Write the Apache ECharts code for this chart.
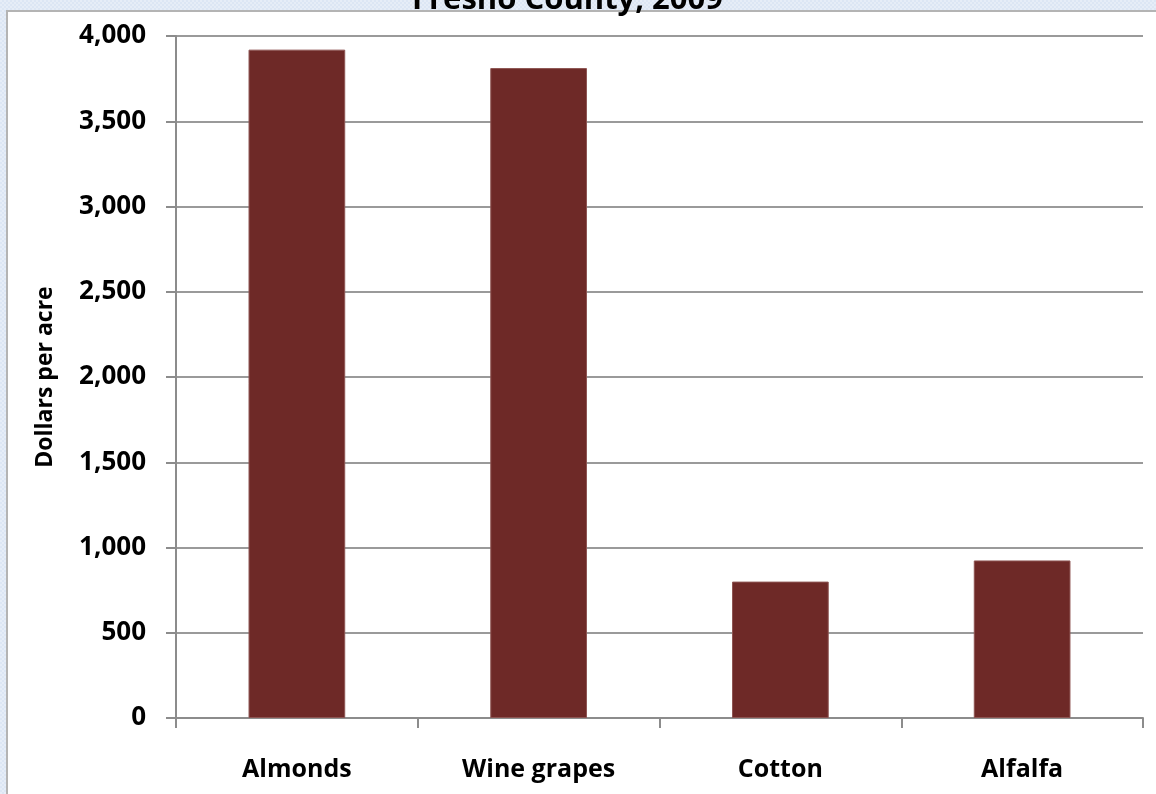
<!DOCTYPE html>
<html>
<head>
<meta charset="utf-8">
<script src="https://cdn.jsdelivr.net/npm/echarts@6/dist/echarts.min.js"></script>
<style>
  html, body { margin: 0; padding: 0; width: 1156px; height: 794px; overflow: hidden; }
  #bg {
    position: absolute; left: 0; top: 0; width: 1156px; height: 794px;
    background-color: #E6EDF7;
    background-image:
      linear-gradient(45deg, #DCE6F4 25%, transparent 25%, transparent 75%, #DCE6F4 75%),
      linear-gradient(45deg, #DCE6F4 25%, transparent 25%, transparent 75%, #DCE6F4 75%);
    background-size: 4px 4px;
    background-position: 0 0, 2px 2px;
  }
  #panel {
    position: absolute; left: 6px; top: 10px; width: 1160px; height: 800px;
    background: #FFFFFF; border-left: 2px solid #B4B4B4; border-top: 2px solid #B4B4B4;
  }
  #chart { position: absolute; left: 0; top: 0; width: 1156px; height: 794px; }
</style>
</head>
<body>
<div id="bg"></div>
<div id="panel"></div>
<div id="chart"></div>
<script>
const titleText = 'Fresno County, 2009';
const yAxisName = 'Dollars per acre';
const categories = ['Almonds', 'Wine grapes', 'Cotton', 'Alfalfa'];
const values = [3920, 3812, 800, 924];

const FONT = '"Open Sans", "Noto Sans", sans-serif';
const chart = echarts.init(document.getElementById('chart'), null, { renderer: 'canvas' });
chart.setOption({
  backgroundColor: 'transparent',
  animation: false,
  title: {
    text: titleText,
    left: 407,
    top: -20,
    textStyle: { fontFamily: FONT, fontWeight: 'bold', fontSize: 31, color: '#000' }
  },
  grid: { left: 176, right: 13, top: 36, bottom: 76, containLabel: false },
  xAxis: {
    type: 'category',
    data: categories,
    boundaryGap: true,
    axisLine: { show: true, lineStyle: { color: '#8C8C8C', width: 2 } },
    axisTick: { show: true, length: 10, alignWithLabel: false, lineStyle: { color: '#8C8C8C', width: 2 } },
    axisLabel: { margin: 39, fontFamily: FONT, fontWeight: 'bold', fontSize: 25, color: '#000' }
  },
  yAxis: {
    type: 'value',
    min: 0, max: 4000, interval: 500,
    name: yAxisName,
    nameLocation: 'middle',
    nameRotate: 90,
    nameGap: 119,
    nameTextStyle: { fontFamily: FONT, fontWeight: 'bold', fontSize: 23, color: '#000' },
    axisLine: { show: true, lineStyle: { color: '#8C8C8C', width: 2 } },
    axisTick: { show: true, length: 10, lineStyle: { color: '#8C8C8C', width: 2 } },
    splitLine: { show: true, lineStyle: { color: '#9A9A9A', width: 2 } },
    axisLabel: {
      margin: 30, fontFamily: FONT, fontWeight: 'bold', fontSize: 26, color: '#000',
      formatter: v => v.toLocaleString('en-US')
    }
  },
  series: [{
    type: 'bar',
    data: values,
    barWidth: '40%',
    itemStyle: { color: '#6E2927', borderColor: '#8E5553', borderWidth: 1 }
  }]
});
</script>
</body>
</html>
